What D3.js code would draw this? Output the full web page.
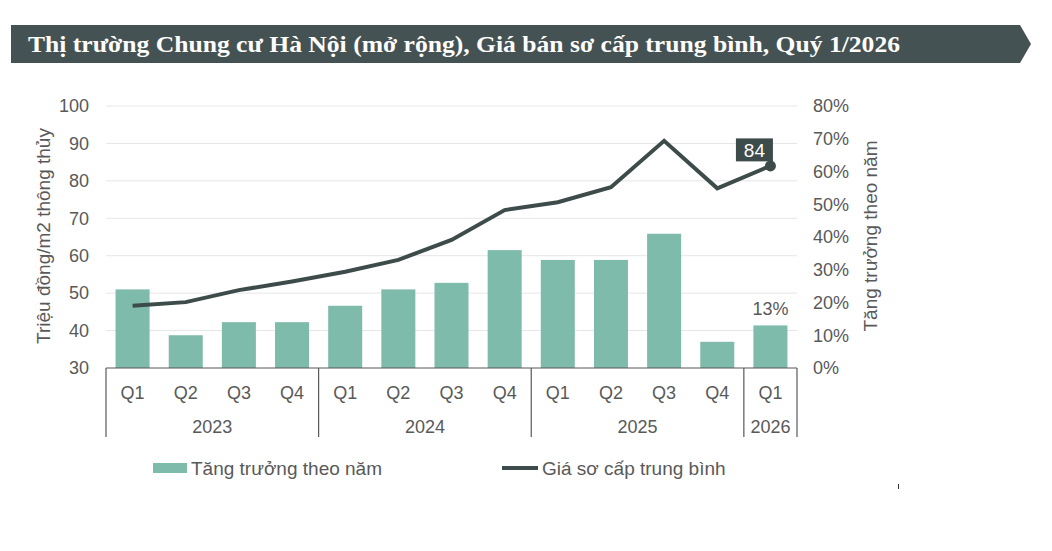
<!DOCTYPE html>
<html><head><meta charset="utf-8">
<script src="https://cdn.jsdelivr.net/npm/d3@7"></script>
<style>
html,body{margin:0;padding:0;background:#fff;}
svg{display:block;}
</style></head>
<body>
<svg id="chart" width="1052" height="551"></svg>
<script>
// ---- data ----
const titleText = "Thị trường Chung cư Hà Nội (mở rộng), Giá bán sơ cấp trung bình, Quý 1/2026";
const quarters = ["Q1","Q2","Q3","Q4","Q1","Q2","Q3","Q4","Q1","Q2","Q3","Q4","Q1"];
const yearLabels = ["2023","2024","2025","2026"];
const yearSpans = [4,4,4,1];
const growth = [24,10,14,14,19,24,26,36,33,33,41,8,13];          // % YoY
const price = [46.6,47.6,50.8,53.1,55.7,58.9,64.2,72.2,74.3,78.3,90.7,78,84]; // triệu đồng/m2
const leftTicks = [30,40,50,60,70,80,90,100];
const rightTicks = [0,10,20,30,40,50,60,70,80];
const leftTitle = "Triệu đồng/m2 thông thủy";
const rightTitle = "Tăng trưởng theo năm";
const legendBar = "Tăng trưởng theo năm";
const legendLine = "Giá sơ cấp trung bình";

// ---- style ----
const barColor = "#7fbbab", lineColor = "#3e4b4b", textColor = "#595959", bannerColor = "#455253";
const font = "'Liberation Sans', Arial, sans-serif";

const svg = d3.select("#chart");
const x0 = 106, x1 = 797, yTop = 106, yBot = 368;

// Banner
svg.append("path")
  .attr("d", d3.line()([[11,25],[1020,25],[1031,44],[1020,63],[11,63]]) + "Z")
  .attr("fill", bannerColor);
svg.append("text").text(titleText)
  .attr("x", 28).attr("y", 52)
  .attr("font-family", "'Liberation Serif','Times New Roman',serif")
  .attr("font-weight", "bold").attr("font-size", 24)
  .attr("fill", "#fff")
  .attr("textLength", 872).attr("lengthAdjust", "spacingAndGlyphs");

// Scales
const idx = d3.range(quarters.length);
const x = d3.scaleBand().domain(idx).range([x0, x1]).paddingInner(0.36).paddingOuter(0.18);
const step = x.step();
const yL = d3.scaleLinear().domain([30,100]).range([yBot, yTop]);
const yR = d3.scaleLinear().domain([0,80]).range([yBot, yTop]);

// Gridlines
svg.append("g").selectAll("line").data(leftTicks.filter(d => d > 30)).join("line")
  .attr("x1", x0).attr("x2", x1)
  .attr("y1", d => yL(d)).attr("y2", d => yL(d))
  .attr("stroke", "#e6e6e6").attr("stroke-width", 1);

// Left axis
const gl = svg.append("g").attr("transform", `translate(${x0},0)`)
  .call(d3.axisLeft(yL).tickValues(leftTicks).tickSize(0).tickPadding(17));
gl.select(".domain").remove();
gl.selectAll("text").attr("font-family", font).attr("font-size", 18).attr("fill", textColor);

// Right axis
const gr = svg.append("g").attr("transform", `translate(${x1},0)`)
  .call(d3.axisRight(yR).tickValues(rightTicks).tickSize(0).tickPadding(16).tickFormat(d => d + "%"));
gr.select(".domain").remove();
gr.selectAll("text").attr("font-family", font).attr("font-size", 18).attr("fill", textColor);

// Axis titles
svg.append("text").text(leftTitle)
  .attr("transform", "translate(50,236) rotate(-90)")
  .attr("text-anchor", "middle")
  .attr("font-family", font).attr("font-size", 19).attr("fill", textColor);
svg.append("text").text(rightTitle)
  .attr("transform", "translate(877,236) rotate(-90)")
  .attr("text-anchor", "middle")
  .attr("font-family", font).attr("font-size", 19).attr("fill", textColor);

// Bars
svg.append("g").selectAll("rect").data(growth).join("rect")
  .attr("x", (d,i) => x(i)).attr("width", x.bandwidth())
  .attr("y", d => yR(d)).attr("height", d => yBot - yR(d))
  .attr("fill", barColor);

// Bottom axis line and separators
svg.append("line").attr("x1", x0).attr("x2", x1).attr("y1", yBot).attr("y2", yBot)
  .attr("stroke", "#595959").attr("stroke-width", 1.2);
const bounds = [0];
yearSpans.forEach(s => bounds.push(bounds[bounds.length-1] + s));
svg.append("g").selectAll("line").data(bounds).join("line")
  .attr("x1", d => x0 + d*step).attr("x2", d => x0 + d*step)
  .attr("y1", yBot).attr("y2", 437)
  .attr("stroke", "#595959").attr("stroke-width", 1.2);

// Quarter labels
svg.append("g").selectAll("text").data(quarters).join("text")
  .text(d => d)
  .attr("x", (d,i) => x(i) + x.bandwidth()/2).attr("y", 399)
  .attr("text-anchor", "middle")
  .attr("font-family", font).attr("font-size", 18).attr("fill", textColor);
// Year labels
svg.append("g").selectAll("text").data(yearLabels).join("text")
  .text(d => d)
  .attr("x", (d,i) => x0 + (bounds[i] + bounds[i+1]) / 2 * step).attr("y", 433)
  .attr("text-anchor", "middle")
  .attr("font-family", font).attr("font-size", 18).attr("fill", textColor);

// Line
const cx = i => x(i) + x.bandwidth()/2;
svg.append("path").datum(price)
  .attr("d", d3.line().x((d,i) => cx(i)).y(d => yL(d)))
  .attr("fill", "none").attr("stroke", lineColor).attr("stroke-width", 4)
  .attr("stroke-linejoin", "miter");
const last = price.length - 1;
svg.append("circle").attr("cx", cx(last)).attr("cy", yL(price[last])).attr("r", 5.5)
  .attr("fill", lineColor);

// Data label for last price
const lx = cx(last) - 16, ly = yL(price[last]) - 16;
svg.append("rect").attr("x", lx - 18.5).attr("y", ly - 11.5).attr("width", 37).attr("height", 23)
  .attr("fill", lineColor);
svg.append("text").text(price[last])
  .attr("x", lx).attr("y", ly + 7)
  .attr("text-anchor", "middle")
  .attr("font-family", font).attr("font-size", 19).attr("fill", "#fff");

// Data label for last growth bar
svg.append("text").text(growth[last] + "%")
  .attr("x", cx(last)).attr("y", yR(growth[last]) - 10)
  .attr("text-anchor", "middle")
  .attr("font-family", font).attr("font-size", 18).attr("fill", textColor);

// Legend
svg.append("rect").attr("x", 153).attr("y", 463).attr("width", 34).attr("height", 10).attr("fill", barColor);
svg.append("text").text(legendBar).attr("x", 191).attr("y", 475)
  .attr("font-family", font).attr("font-size", 19).attr("fill", textColor);
svg.append("line").attr("x1", 502).attr("x2", 538).attr("y1", 468).attr("y2", 468)
  .attr("stroke", lineColor).attr("stroke-width", 4);
svg.append("text").text(legendLine).attr("x", 542).attr("y", 475)
  .attr("font-family", font).attr("font-size", 19).attr("fill", textColor);

// small stray mark
svg.append("line").attr("x1", 898.5).attr("x2", 898.5).attr("y1", 484).attr("y2", 489)
  .attr("stroke", "#333").attr("stroke-width", 1);
</script>
</body></html>
